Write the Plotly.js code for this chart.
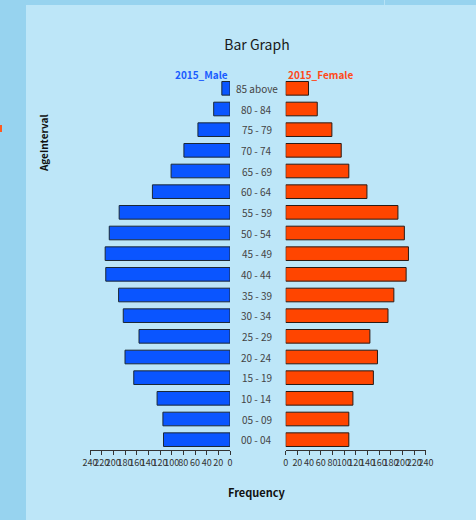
<!DOCTYPE html>
<html>
<head>
<meta charset="utf-8">
<script src="https://cdn.plot.ly/plotly-3.0.1.min.js"></script>
<style>
  html, body { margin: 0; padding: 0; background: #97d3ef; width: 476px; height: 520px; overflow: hidden; }
  #wrap { position: absolute; left: 26px; top: 5px; width: 450px; height: 515px; background: #bde6f8; }
  #chart { width: 450px; height: 515px; }
  #mark { position: absolute; left: 0; top: 125px; width: 2px; height: 7px; background: #ff5a1f; }
  #divider { position: absolute; left: 384px; top: 0; width: 1px; height: 5px; background: #b6e2f6; }
</style>
</head>
<body>
<div id="mark"></div>
<div id="divider"></div>
<div id="wrap"><div id="chart"></div></div>
<script>
const categories = ["00 - 04","05 - 09","10 - 14","15 - 19","20 - 24","25 - 29","30 - 34","35 - 39","40 - 44","45 - 49","50 - 54","55 - 59","60 - 64","65 - 69","70 - 74","75 - 79","80 - 84","85 above"];
const male2015 =   [114, 115, 125, 165, 180, 156, 183, 191, 213, 214, 207, 190, 133, 101, 79, 55, 28, 14];
const female2015 = [108, 108, 115, 150, 157, 144, 175, 185, 206, 210, 203, 192, 139, 108, 95, 79, 54, 39];
const tickVals = [0,20,40,60,80,100,120,140,160,180,200,220,240];
const seriesNames = ["2015_Male", "2015_Female"];

const FONT = '"Noto Sans CJK KR", "Noto Sans", sans-serif';

const traces = [
  { type: 'bar', orientation: 'h', x: male2015, y: categories, name: seriesNames[0],
    xaxis: 'x', yaxis: 'y',
    marker: { color: '#0a55ff', line: { color: '#1b2836', width: 1 } }, hoverinfo: 'x+y' },
  { type: 'bar', orientation: 'h', x: female2015, y: categories, name: seriesNames[1],
    xaxis: 'x2', yaxis: 'y2',
    marker: { color: '#ff4500', line: { color: '#2a1a14', width: 1 } }, hoverinfo: 'x+y' }
];

const xCommon = {
  range: [0, 240], tickvals: tickVals, ticktext: tickVals.map(String), tickangle: 0,
  showgrid: false, zeroline: false, showline: true, linecolor: '#333', linewidth: 1,
  ticks: 'outside', ticklen: 4, tickcolor: '#333', tickwidth: 1,
  tickfont: { family: FONT, size: 9, color: '#333' }, fixedrange: true
};
const yCommon = {
  type: 'category', categoryorder: 'array', categoryarray: categories,
  range: [-0.5, categories.length - 0.5], showticklabels: false, showgrid: false,
  zeroline: false, showline: false, ticks: '', fixedrange: true
};

const annotations = categories.map(c => ({
  xref: 'paper', yref: 'y', x: 0.497, y: c, text: c, showarrow: false,
  xanchor: 'center', yanchor: 'middle', font: { family: FONT, size: 10, color: '#444' }
}));
annotations.push(
  { xref: 'paper', yref: 'paper', x: 0.4167, y: 1, yshift: 4, xanchor: 'right', yanchor: 'middle',
    text: '<b>' + seriesNames[0] + '</b>', showarrow: false, font: { family: FONT, size: 10, color: '#1a5cff' } },
  { xref: 'paper', yref: 'paper', x: 0.5824, y: 1, yshift: 4, xanchor: 'left', yanchor: 'middle',
    text: '<b>' + seriesNames[1] + '</b>', showarrow: false, font: { family: FONT, size: 10, color: '#ff4a1a' } },
  { xref: 'paper', yref: 'paper', x: -0.1399, y: 0.825, textangle: -90, xanchor: 'center', yanchor: 'middle',
    text: '<b>AgeInterval</b>', showarrow: false, font: { family: FONT, size: 10, color: '#111' } },
  { xref: 'paper', yref: 'paper', x: 0.497, y: -0.1129, xanchor: 'center', yanchor: 'middle',
    text: '<b>Frequency</b>', showarrow: false, font: { family: FONT, size: 11, color: '#111' } }
);

const layout = {
  width: 450, height: 515,
  margin: { l: 64, r: 50, t: 73, b: 70 },
  paper_bgcolor: '#bde6f8', plot_bgcolor: '#bde6f8',
  showlegend: false, bargap: 0.34,
  title: { text: 'Bar Graph', x: 0.497, xref: 'paper', y: 0.922, yref: 'container', yanchor: 'middle',
           font: { family: FONT, size: 14, color: '#1a1a1a' } },
  xaxis: Object.assign({}, xCommon, { domain: [0, 0.4167], autorange: false, range: [240, 0], anchor: 'y' }),
  xaxis2: Object.assign({}, xCommon, { domain: [0.5824, 1], anchor: 'y2' }),
  yaxis: Object.assign({}, yCommon, { anchor: 'x' }),
  yaxis2: Object.assign({}, yCommon, { anchor: 'x2', matches: 'y' }),
  annotations: annotations
};

Plotly.newPlot('chart', traces, layout, { displayModeBar: false, staticPlot: true });
</script>
</body>
</html>
